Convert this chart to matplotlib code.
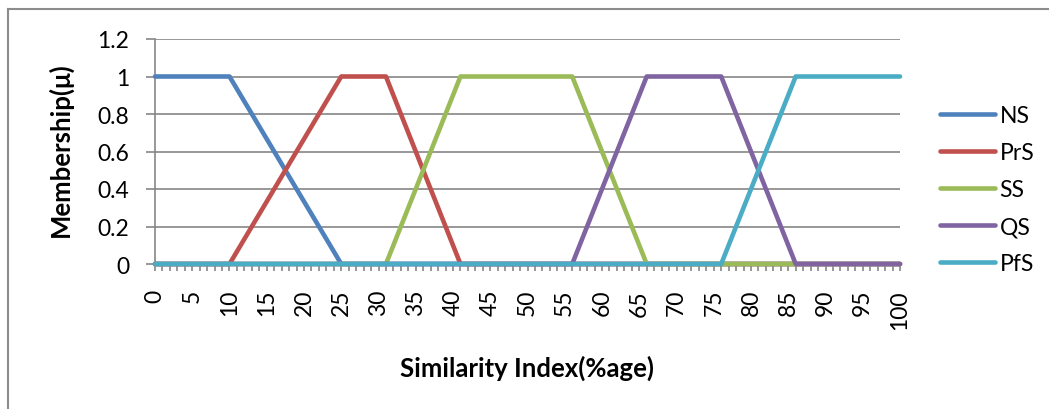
import matplotlib
matplotlib.use("Agg")
import matplotlib.pyplot as plt
from matplotlib.lines import Line2D

plt.rcParams["font.family"] = ["Lato", "DejaVu Sans"]

# breakpoints of each membership function (x = similarity index, y = membership)
series_names = ["NS", "PrS", "SS", "QS", "PfS"]
ns_x = [0, 10, 25, 100]
ns_y = [1, 1, 0, 0]
prs_x = [0, 10, 25, 31, 41, 100]
prs_y = [0, 0, 1, 1, 0, 0]
ss_x = [0, 31, 41, 56, 66, 100]
ss_y = [0, 0, 1, 1, 0, 0]
qs_x = [0, 56, 66, 76, 86, 100]
qs_y = [0, 0, 1, 1, 0, 0]
pfs_x = [0, 76, 86, 100]
pfs_y = [0, 0, 1, 1]

x_ticks = list(range(0, 101, 5))
y_ticks = [0, 0.2, 0.4, 0.6, 0.8, 1, 1.2]
y_labels = ["0", "0.2", "0.4", "0.6", "0.8", "1", "1.2"]

colors = ["#4F81BD", "#C0504D", "#9BBB59", "#8064A2", "#4BACC6"]
gray = "#868686"
fs = 16.5

fig = plt.figure(figsize=(10.49, 4.10), dpi=100)
ax = fig.add_axes([155 / 1049, 1 - 265 / 410, 745 / 1049, 225 / 410])

data = [(ns_x, ns_y), (prs_x, prs_y), (ss_x, ss_y), (qs_x, qs_y), (pfs_x, pfs_y)]
for (xs, ys), name, c in zip(data, series_names, colors):
    ax.plot(xs, ys, color=c, lw=3.3, label=name,
            solid_capstyle="round", solid_joinstyle="round", clip_on=False, zorder=3)

ax.set_xlim(0, 100)
ax.set_ylim(0, 1.2)
ax.set_yticks(y_ticks)
ax.set_yticklabels(y_labels)
ax.set_xticks(x_ticks)
ax.set_xticklabels([str(t) for t in x_ticks], rotation=90)
ax.set_xticks(range(0, 101), minor=True)

ax.grid(axis="y", color=gray, lw=1.2)
ax.set_axisbelow(True)
for s in ["top", "right"]:
    ax.spines[s].set_visible(False)
ax.spines["left"].set_color(gray)
ax.spines["bottom"].set_color(gray)
ax.spines["left"].set_linewidth(1.2)

ax.tick_params(axis="y", length=6.5, width=1.2, color=gray, pad=12, labelsize=fs)
ax.tick_params(axis="x", which="both", length=5, width=1.2, color=gray, pad=13, labelsize=fs)

fig.text(60 / 1049, 1 - 150 / 410, "Membership(\u03bc)", rotation=90,
         ha="center", va="center", fontsize=18.5, fontweight="bold")
fig.text(527 / 1049, 1 - 368 / 410, "Similarity Index(%age)",
         ha="center", va="center", fontsize=18.5, fontweight="bold")

fig.legend(loc="center left", bbox_to_anchor=(940 / 1049, 1 - 190.5 / 410),
           frameon=False, fontsize=fs, handlelength=2.4, handletextpad=0.2,
           labelspacing=0.7, borderpad=0, borderaxespad=0)

# outer chart border (top and left only visible)
fig.add_artist(Line2D([8 / 1049, 1], [1 - 10 / 410, 1 - 10 / 410], color="#8C8C8C", lw=1.5))
fig.add_artist(Line2D([8 / 1049, 8 / 1049], [0, 1 - 10 / 410], color="#8C8C8C", lw=1.5))

fig.savefig("out.png", dpi=100)
